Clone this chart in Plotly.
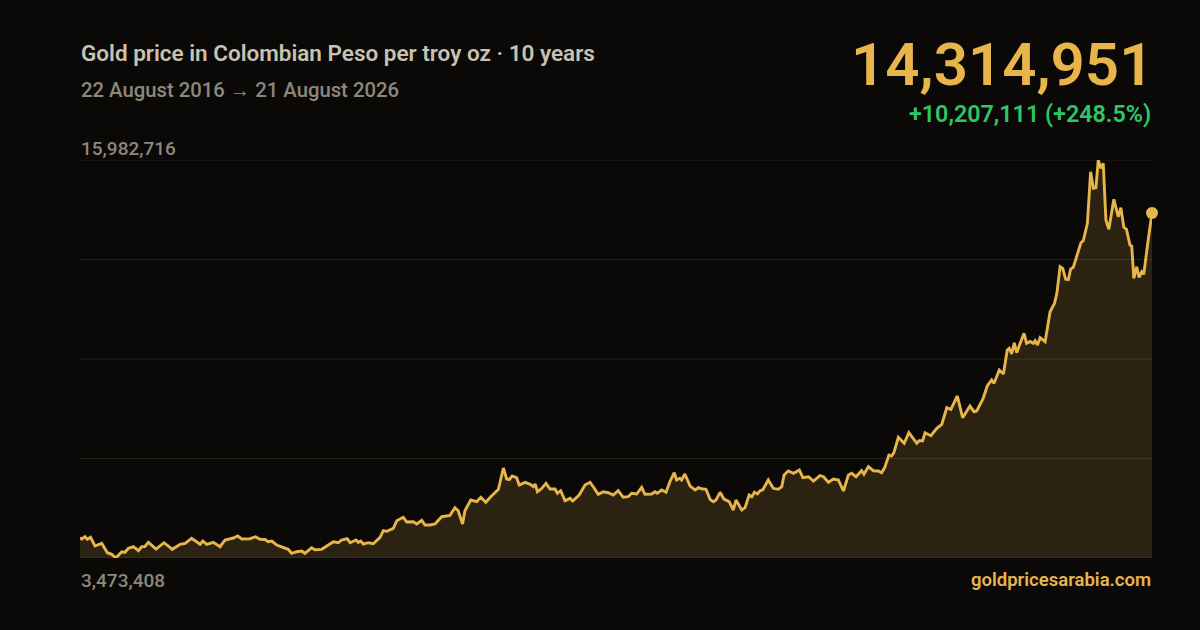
import pandas as pd
import plotly.graph_objects as go

# Gold price in COP per troy oz
# day offset from 22 Aug 2016, price in thousands of COP
days = [0, 6, 17, 25, 36, 51, 74, 93, 108, 122, 142, 153, 165, 182, 199, 210, 221, 233, 259, 286,
        301, 314, 341, 358, 380, 409, 418, 432, 454, 477, 494, 522, 537, 551, 579, 598, 613, 630, 641, 653,
        670, 692, 709, 721, 738, 755, 766, 789, 800, 823, 840, 863, 880, 891, 910, 920, 940, 948, 956, 965,
        982, 999, 1022, 1033, 1045, 1067, 1079, 1101, 1113, 1135, 1147, 1164, 1175, 1192, 1209, 1232, 1260, 1277, 1288, 1303,
        1311, 1331, 1351, 1365, 1382, 1399, 1425, 1442, 1453, 1462, 1472, 1487, 1496, 1516, 1533, 1544, 1550, 1558, 1573, 1587,
        1601, 1618, 1626, 1637, 1652, 1669, 1678, 1700, 1720, 1737, 1748, 1765, 1782, 1799, 1816, 1833, 1850, 1867, 1879, 1896,
        1913, 1924, 1947, 1958, 1966, 1981, 1996, 2009, 2024, 2032, 2043, 2049, 2060, 2078, 2095, 2106, 2117, 2132, 2146, 2157,
        2166, 2180, 2193, 2211, 2225, 2234, 2254, 2265, 2279, 2288, 2297, 2307, 2316, 2325, 2344, 2361, 2378, 2390, 2398, 2412,
        2430, 2450, 2462, 2481, 2498, 2520, 2532, 2549, 2566, 2583, 2600, 2617, 2628, 2643, 2662, 2670, 2685, 2702, 2719, 2730,
        2741, 2755, 2764, 2772, 2787, 2807, 2823, 2836, 2850, 2858, 2870, 2878, 2898, 2918, 2935, 2952, 2966, 2988, 3006, 3031,
        3045, 3054, 3076, 3090, 3105, 3113, 3131, 3145, 3158, 3165, 3173, 3182, 3190, 3215, 3224, 3236, 3247, 3253, 3261, 3270,
        3287, 3304, 3319, 3327, 3338, 3347, 3357, 3366, 3374, 3383, 3395, 3409, 3417, 3431, 3442, 3451, 3460, 3468, 3477, 3485,
        3494, 3504, 3521, 3536, 3545, 3555, 3564, 3576, 3582, 3589, 3599, 3607, 3616, 3623, 3638, 3651]
price_k = [4107.840, 4070, 4142, 4061, 4124, 3850, 3935, 3640, 3589, 3473.408, 3671, 3652, 3778, 3828, 3702, 3828, 3835, 3966, 3756, 3954,
           3850, 3746, 3904, 3935, 4092, 3904, 4007, 3900, 3966, 3828, 4039, 4102, 4164, 4070, 4080, 4142, 4061, 4055, 3985, 4007,
           3882, 3809, 3746, 3621, 3671, 3693, 3621, 3797, 3734, 3746, 3850, 3985, 3954, 4039, 4080, 3954, 4039, 3966, 4007, 3913,
           3954, 3922, 4124, 4331, 4312, 4406, 4645, 4752, 4604, 4614, 4542, 4658, 4510, 4510, 4542, 4771, 4815, 5054, 4960, 4542,
           4960, 5296, 5243, 5381, 5224, 5400, 5632, 6302, 5956, 5934, 6050, 5997, 5767, 5852, 5789, 5714, 5799, 5557, 5664, 5821,
           5642, 5642, 5507, 5588, 5274, 5349, 5265, 5453, 5767, 5852, 5714, 5475, 5557, 5525, 5453, 5588, 5381, 5400, 5507, 5485,
           5695, 5475, 5485, 5557, 5507, 5610, 5538, 5871, 6154, 5925, 5978, 5925, 6113, 5736, 5610, 5683, 5651, 5632, 5318, 5243,
           5296, 5538, 5327, 5243, 4982, 5296, 4982, 5054, 5453, 5400, 5538, 5485, 5588, 5610, 5925, 5664, 5632, 5714, 6082, 6207,
           6135, 6239, 5997, 6028, 5893, 6060, 6028, 5852, 5956, 5925, 5579, 6082, 6135, 6028, 6217, 6104, 6343, 6217, 6207, 6154,
           6324, 6710, 6679, 6783, 7267, 7078, 7411, 7235, 7078, 7160, 7160, 7411, 7317, 7550, 7675, 8197, 8147, 8565, 7883, 8250,
           8071, 8093, 8492, 8879, 9068, 8964, 9382, 9256, 10010, 10064, 9885, 10240, 9926, 10535, 10221, 10278, 10221, 10303, 10168, 10397,
           10271, 11214, 11478, 11792, 12629, 12578, 12233, 12220, 12556, 12610, 12996, 13383, 13446, 13993, 15614, 15093, 15112, 15982.716, 15721, 15878,
           14096, 13804, 14747, 14200, 14483, 13867, 13804, 13311, 13279, 12264, 12629, 12295, 12471, 12390, 13468, 14314.951]

start = pd.Timestamp("2016-08-22")
dates = start + pd.to_timedelta(days, unit="D")
prices = [p * 1000 for p in price_k]

y_min = 3473408
y_max = 15982716
change = 10207111
change_pct = 248.5

BG = "#0a0908"
GOLD = "#e8b54a"
MUTED = "#8e887b"
FONT = "Roboto"

fig = go.Figure()
fig.add_trace(go.Scatter(x=dates, y=prices, mode="lines", line=dict(color=GOLD, width=2.9),
                         fill="tozeroy", fillcolor="rgba(232,181,74,0.15)", hoverinfo="skip"))
fig.add_trace(go.Scatter(x=[dates[-1]], y=[prices[-1]], mode="markers", cliponaxis=False,
                         marker=dict(color=GOLD, size=12), hoverinfo="skip"))

# four equal bands between min and max
grid = [y_min + (y_max - y_min) * i / 4 for i in range(4)] + [y_max]
for g in grid:
    fig.add_hline(y=g, line=dict(color="#262219", width=1), layer="below")

fig.update_layout(
    width=1200, height=630, paper_bgcolor=BG, plot_bgcolor=BG, showlegend=False,
    margin=dict(l=80, r=48, t=160, b=72),
    font=dict(family=FONT),
    xaxis=dict(visible=False, range=[dates[0], dates[-1]]),
    yaxis=dict(range=[y_min, y_max], showticklabels=False, showgrid=False, zeroline=False),
)

def px_x(p):
    return (p - 80) / 1072

def px_y(p):
    return (558 - p) / 398

notes = [
    dict(x=px_x(79), y=px_y(53), text="Gold price in Colombian Peso per troy oz · 10 years",
         xanchor="left", font=dict(size=22.5, color="#c9c2b2", weight=600)),
    dict(x=px_x(79), y=px_y(90), text="22 August 2016 → 21 August 2026",
         xanchor="left", font=dict(size=20.3, color=MUTED, weight=500)),
    dict(x=px_x(1155), y=px_y(64), text="14,314,951",
         xanchor="right", font=dict(size=60, color=GOLD, weight=600)),
    dict(x=px_x(1153), y=px_y(114), text=f"+{change:,} (+{change_pct}%)",
         xanchor="right", font=dict(size=23.3, color="#2fc765", weight=600)),
    dict(x=px_x(79), y=px_y(148), text=f"{y_max:,}",
         xanchor="left", font=dict(size=19, color=MUTED, weight=500)),
    dict(x=px_x(79), y=px_y(580), text=f"{y_min:,}",
         xanchor="left", font=dict(size=19, color=MUTED, weight=500)),
    dict(x=px_x(1153), y=px_y(580), text="goldpricesarabia.com",
         xanchor="right", font=dict(size=18.5, color=GOLD, weight=600)),
]
for n in notes:
    fig.add_annotation(xref="paper", yref="paper", yanchor="middle", showarrow=False, **n)

fig.write_html("out.html", config={"displayModeBar": False},
               post_script="document.body.style.margin='0';")
